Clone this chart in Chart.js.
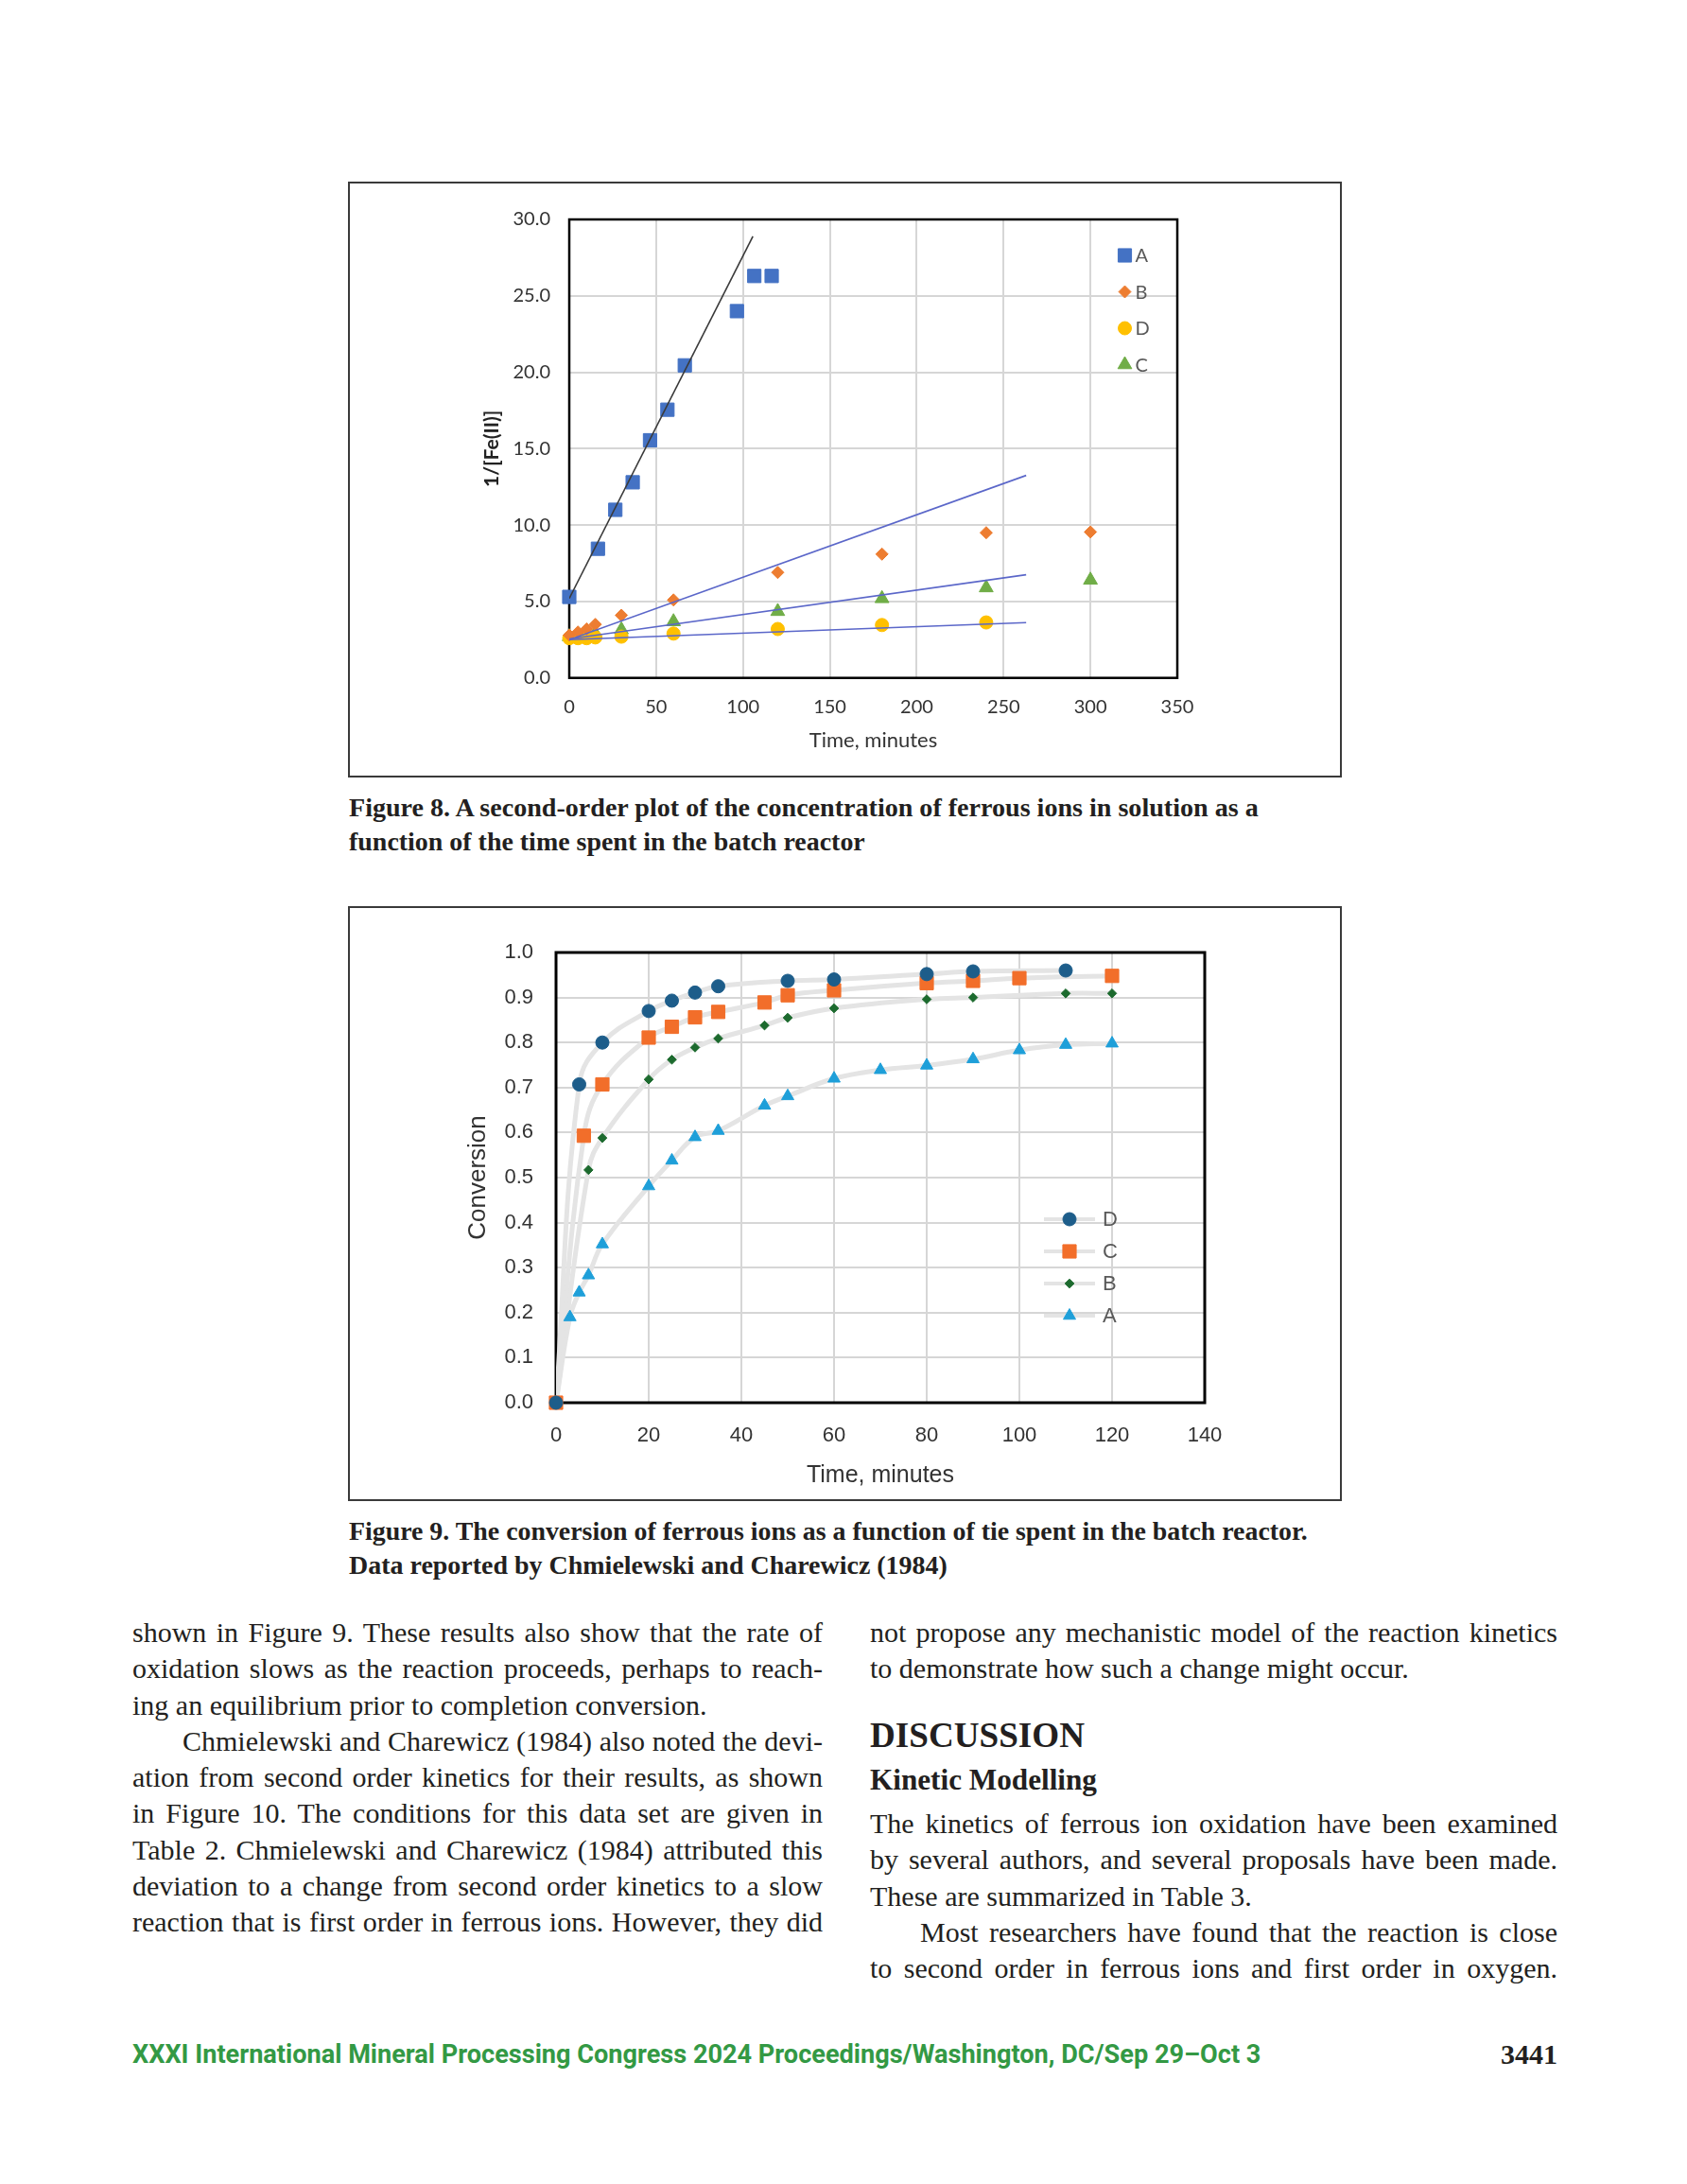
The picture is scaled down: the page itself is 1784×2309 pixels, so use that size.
<!DOCTYPE html>
<html>
<head>
<meta charset="utf-8">
<title>Figures 8 and 9</title>
<script src="https://cdn.jsdelivr.net/npm/chart.js@4.4.1/dist/chart.umd.min.js"></script>
<style>
  html, body { margin: 0; padding: 0; background: #fff; }
  #page { position: relative; width: 1784px; height: 2309px; overflow: hidden; background: #fff;
          color: #231f20; font-family: "Liberation Serif", "Times New Roman", serif; }
  .frame { position: absolute; border: 2px solid #3a3a3a; box-sizing: border-box; pointer-events: none; }
  .chartbox { position: absolute; }
  .ln { position: absolute; height: 38px; line-height: 38px; font-size: 30px; white-space: nowrap; }
  .jl { text-align: justify; text-align-last: justify; white-space: normal; overflow: visible; }
  .cap { position: absolute; font-weight: bold; font-size: 25px; line-height: 35px; white-space: nowrap; }
  .head { position: absolute; font-weight: bold; white-space: nowrap; }
  .foot { position: absolute; font-family: Roboto, "Liberation Sans", sans-serif; font-weight: bold;
          font-size: 24px; line-height: 30px; color: #339944; white-space: nowrap; }
</style>
</head>
<body>
<div id="page">
  <div class="chartbox" style="left:369px;top:193px;width:1049px;height:628px"><canvas id="fig8"></canvas></div>
  <div class="frame" style="left:368px;top:192px;width:1051px;height:630px"></div>
  <div class="cap" style="left:369px;top:836px" data-fit="962">Figure 8. A second-order plot of the concentration of ferrous ions in solution as a</div>
  <div class="cap" style="left:369px;top:872px" data-fit="546">function of the time spent in the batch reactor</div>

  <div class="chartbox" style="left:369px;top:959px;width:1049px;height:627px"><canvas id="fig9"></canvas></div>
  <div class="frame" style="left:368px;top:958px;width:1051px;height:629px"></div>
  <div class="cap" style="left:369px;top:1601px" data-fit="1014">Figure 9. The conversion of ferrous ions as a function of tie spent in the batch reactor.</div>
  <div class="cap" style="left:369px;top:1637px" data-fit="633">Data reported by Chmielewski and Charewicz (1984)</div>

  <div class="ln jl" style="left:140px;width:730px;top:1707px">shown in Figure 9. These results also show that the rate of</div>
  <div class="ln jl" style="left:140px;width:730px;top:1745px">oxidation slows as the reaction proceeds, perhaps to reach-</div>
  <div class="ln" style="left:140px;top:1784px">ing an equilibrium prior to completion conversion.</div>
  <div class="ln jl" style="left:193px;width:677px;top:1822px">Chmielewski and Charewicz (1984) also noted the devi-</div>
  <div class="ln jl" style="left:140px;width:730px;top:1860px">ation from second order kinetics for their results, as shown</div>
  <div class="ln jl" style="left:140px;width:730px;top:1898px">in Figure 10. The conditions for this data set are given in</div>
  <div class="ln jl" style="left:140px;width:730px;top:1937px">Table 2. Chmielewski and Charewicz (1984) attributed this</div>
  <div class="ln jl" style="left:140px;width:730px;top:1975px">deviation to a change from second order kinetics to a slow</div>
  <div class="ln jl" style="left:140px;width:730px;top:2013px">reaction that is first order in ferrous ions. However, they did</div>

  <div class="ln jl" style="left:920px;width:727px;top:1707px">not propose any mechanistic model of the reaction kinetics</div>
  <div class="ln" style="left:920px;top:1745px">to demonstrate how such a change might occur.</div>
  <div class="head" style="left:920px;top:1813px;font-size:36px;line-height:44px" data-fit="227">DISCUSSION</div>
  <div class="head" style="left:920px;top:1863px;font-size:30px;line-height:38px" data-fit="240">Kinetic Modelling</div>
  <div class="ln jl" style="left:920px;width:727px;top:1909px">The kinetics of ferrous ion oxidation have been examined</div>
  <div class="ln jl" style="left:920px;width:727px;top:1947px">by several authors, and several proposals have been made.</div>
  <div class="ln" style="left:920px;top:1986px">These are summarized in Table 3.</div>
  <div class="ln jl" style="left:973px;width:674px;top:2024px">Most researchers have found that the reaction is close</div>
  <div class="ln jl" style="left:920px;width:727px;top:2062px">to second order in ferrous ions and first order in oxygen.</div>

  <div class="foot" style="left:140px;top:2157px" data-fit="1194">XXXI International Mineral Processing Congress 2024 Proceedings/Washington, DC/Sep 29–Oct 3</div>
  <div class="head" style="right:137px;top:2153px;font-size:30px;line-height:38px">3441</div>
</div>

<script>
// ---- Figure 8: 1/[Fe(II)] against time ----
const fig8TimeA = [0, 16.5, 26.5, 36.5, 46.5, 56.5, 66.5, 96.5, 106.5, 116.5];
const fig8SeriesA = [5.3, 8.45, 11.0, 12.8, 15.55, 17.55, 20.45, 24.0, 26.3, 26.3];
const fig8TimeBC = [0, 5, 10, 15, 30, 60, 120, 180, 240, 300];
const fig8SeriesB = [2.8, 3.0, 3.2, 3.5, 4.1, 5.1, 6.9, 8.1, 9.5, 9.55];
const fig8SeriesC = [2.7, 2.8, 2.85, 2.9, 3.15, 3.68, 4.35, 5.19, 5.9, 6.4];
const fig8TimeD = [0, 5, 10, 15, 30, 60, 120, 180, 240];
const fig8SeriesD = [2.6, 2.6, 2.6, 2.65, 2.7, 2.9, 3.2, 3.46, 3.63];
// fitted straight lines (end points)
const fig8TrendAX = [0, 105.7];
const fig8TrendAY = [5.2, 28.9];
const fig8TrendX = [0, 263];
const fig8TrendBY = [2.5, 13.25];
const fig8TrendCY = [2.55, 6.75];
const fig8TrendDY = [2.5, 3.62];
const fig8XTicks = [0, 50, 100, 150, 200, 250, 300, 350];
const fig8XTickLabels = ["0", "50", "100", "150", "200", "250", "300", "350"];
const fig8YTicks = [0, 5, 10, 15, 20, 25, 30];
const fig8YTickLabels = ["0.0", "5.0", "10.0", "15.0", "20.0", "25.0", "30.0"];

// ---- Figure 9: conversion against time ----
const fig9TimeA = [0, 3, 5, 7, 10, 20, 25, 30, 35, 45, 50, 60, 70, 80, 90, 100, 110, 120];
const fig9SeriesA = [0, 0.19, 0.245, 0.283, 0.352, 0.481, 0.538, 0.59, 0.604, 0.66, 0.681, 0.72, 0.739, 0.749, 0.763, 0.783, 0.795, 0.798];
const fig9TimeB = [0, 7, 10, 20, 25, 30, 35, 45, 50, 60, 80, 90, 110, 120];
const fig9SeriesB = [0, 0.517, 0.588, 0.718, 0.762, 0.789, 0.809, 0.838, 0.855, 0.876, 0.896, 0.9, 0.909, 0.909];
const fig9TimeC = [0, 6, 10, 20, 25, 30, 35, 45, 50, 60, 80, 90, 100, 120];
const fig9SeriesC = [0, 0.593, 0.707, 0.811, 0.835, 0.856, 0.868, 0.889, 0.905, 0.916, 0.932, 0.937, 0.943, 0.948];
const fig9TimeD = [0, 5, 10, 20, 25, 30, 35, 50, 60, 80, 90, 110];
const fig9SeriesD = [0, 0.707, 0.8, 0.87, 0.893, 0.911, 0.925, 0.937, 0.94, 0.952, 0.958, 0.96];
const fig9XTicks = [0, 20, 40, 60, 80, 100, 120, 140];
const fig9XTickLabels = ["0", "20", "40", "60", "80", "100", "120", "140"];
const fig9YTicks = [0, 0.1, 0.2, 0.3, 0.4, 0.5, 0.6, 0.7, 0.8, 0.9, 1.0];
const fig9YTickLabels = ["0.0", "0.1", "0.2", "0.3", "0.4", "0.5", "0.6", "0.7", "0.8", "0.9", "1.0"];

const xy = (xs, ys) => xs.map((x, i) => ({ x, y: ys[i] }));

function drawMarker(ctx, style, r, x, y) {
  ctx.beginPath();
  if (style === "rect") {
    const s = r * Math.SQRT1_2;
    ctx.rect(x - s, y - s, 2 * s, 2 * s);
  } else if (style === "rectRot") {
    ctx.moveTo(x, y - r); ctx.lineTo(x + r, y); ctx.lineTo(x, y + r); ctx.lineTo(x - r, y);
    ctx.closePath();
  } else if (style === "triangle") {
    const c = Math.cos(Math.PI / 6) * r;
    ctx.moveTo(x, y - r); ctx.lineTo(x + c, y + r / 2); ctx.lineTo(x - c, y + r / 2);
    ctx.closePath();
  } else {
    ctx.arc(x, y, r, 0, Math.PI * 2);
  }
  ctx.fill();
  ctx.stroke();
}

// black box round the plot area
const plotFrame = {
  id: "plotFrame",
  beforeDatasetsDraw(chart, args, opts) {
    const { ctx, chartArea: a } = chart;
    ctx.save();
    ctx.strokeStyle = opts.color;
    ctx.lineWidth = opts.width;
    ctx.strokeRect(a.left, a.top, a.right - a.left, a.bottom - a.top);
    ctx.restore();
  },
};

// legend drawn inside the plot, as in the Excel originals
const insideLegend = {
  id: "insideLegend",
  afterDatasetsDraw(chart, args, opts) {
    const { ctx, chartArea: a } = chart;
    const items = chart.data.datasets.filter((d) => d.inLegend);
    ctx.save();
    items.forEach((d, i) => {
      const x = a.right + opts.dx;
      const y = a.top + opts.dy + i * opts.gap;
      if (opts.lineColor) {
        ctx.strokeStyle = opts.lineColor;
        ctx.lineWidth = opts.lineWidth;
        ctx.beginPath();
        ctx.moveTo(x - opts.lineHalf, y);
        ctx.lineTo(x + opts.lineHalf, y);
        ctx.stroke();
      }
      ctx.fillStyle = d.backgroundColor;
      ctx.strokeStyle = d.borderColor;
      ctx.lineWidth = 1;
      drawMarker(ctx, d.pointStyle, d.pointRadius, x, y);
      ctx.fillStyle = opts.textColor;
      ctx.font = opts.font;
      ctx.textAlign = "left";
      ctx.textBaseline = "middle";
      ctx.fillText(d.label, x + opts.textDx, y + 1);
    });
    ctx.restore();
  },
};

function linearAxis(o) {
  return {
    type: "linear",
    min: o.min,
    max: o.max,
    afterBuildTicks: (s) => { s.ticks = o.ticks.map((v) => ({ value: v })); },
    ticks: { callback: (v, i) => o.labels[i], padding: o.pad, color: "#333333", font: o.tickFont, autoSkip: false, maxRotation: 0 },
    grid: { color: o.gridColor, lineWidth: 2, drawTicks: false },
    border: { display: false },
    title: { display: true, text: o.title, color: o.titleColor, font: o.titleFont, padding: o.titlePad },
    afterFit: (s) => {
      if (o.width) s.width = o.width;
      if (o.height) s.height = o.height;
    },
  };
}

function markers(label, xs, ys, style, radius, color) {
  return {
    label, data: xy(xs, ys), pointStyle: style, pointRadius: radius, pointHoverRadius: radius,
    backgroundColor: color, borderColor: color, borderWidth: 1, showLine: false, clip: false,
    inLegend: true, order: 1,
  };
}

function trend(label, xs, ys, color, width) {
  return {
    label, data: xy(xs, ys), showLine: true, pointRadius: 0, pointHoverRadius: 0,
    borderColor: color, borderWidth: width, backgroundColor: color, fill: false, order: 0,
  };
}

new Chart(document.getElementById("fig8"), {
  type: "scatter",
  data: {
    datasets: [
      markers("A", fig8TimeA, fig8SeriesA, "rect", 10, "#4472C4"),
      markers("B", fig8TimeBC, fig8SeriesB, "rectRot", 6.5, "#ED7D31"),
      markers("D", fig8TimeD, fig8SeriesD, "circle", 7, "#FFC000"),
      markers("C", fig8TimeBC, fig8SeriesC, "triangle", 8.5, "#70AD47"),
      trend("fit A", fig8TrendAX, fig8TrendAY, "#3a3a3a", 1.6),
      trend("fit B", fig8TrendX, fig8TrendBY, "#5B67C9", 1.6),
      trend("fit C", fig8TrendX, fig8TrendCY, "#5B67C9", 1.6),
      trend("fit D", fig8TrendX, fig8TrendDY, "#5B67C9", 1.6),
    ],
  },
  options: {
    responsive: true,
    maintainAspectRatio: false,
    animation: false,
    events: [],
    layout: { padding: { top: 39, right: 173, bottom: 0, left: 0 } },
    plugins: {
      legend: { display: false },
      tooltip: { enabled: false },
      plotFrame: { color: "#000", width: 2.5 },
      insideLegend: { dx: -55.5, dy: 38, gap: 38.5, textDx: 11, textColor: "#595959", font: "20px Lato, 'Liberation Sans', sans-serif" },
    },
    scales: {
      x: linearAxis({
        min: 0, max: 350, ticks: fig8XTicks, labels: fig8XTickLabels, pad: 19,
        tickFont: { family: "Lato, 'Liberation Sans', sans-serif", size: 20 },
        gridColor: "#D6D6D6", title: "Time, minutes", titleColor: "#333333",
        titleFont: { family: "Lato, 'Liberation Sans', sans-serif", size: 22 }, titlePad: { bottom: 25 }, height: 104.3,
      }),
      y: linearAxis({
        min: 0, max: 30, ticks: fig8YTicks, labels: fig8YTickLabels, pad: 20,
        tickFont: { family: "Lato, 'Liberation Sans', sans-serif", size: 20 },
        gridColor: "#D6D6D6", title: "1/[Fe(II)]", titleColor: "#222222",
        titleFont: { family: "Lato, 'Liberation Sans', sans-serif", size: 21, weight: "bold" }, titlePad: { top: 139 }, width: 233,
      }),
    },
  },
  plugins: [plotFrame, insideLegend],
});

function smooth(label, xs, ys) {
  return {
    label, data: xy(xs, ys), showLine: true, pointRadius: 0, pointHoverRadius: 0,
    borderColor: "#E4E4E4", borderWidth: 5, tension: 0.4, fill: false, order: 2,
  };
}

new Chart(document.getElementById("fig9"), {
  type: "scatter",
  data: {
    datasets: [
      markers("D", fig9TimeD, fig9SeriesD, "circle", 7, "#1D5D8A"),
      markers("C", fig9TimeC, fig9SeriesC, "rect", 10, "#F26E2A"),
      markers("B", fig9TimeB, fig9SeriesB, "rectRot", 4.8, "#1C6A2E"),
      markers("A", fig9TimeA, fig9SeriesA, "triangle", 7.5, "#1E9FD9"),
      smooth("D line", fig9TimeD, fig9SeriesD),
      smooth("C line", fig9TimeC, fig9SeriesC),
      smooth("B line", fig9TimeB, fig9SeriesB),
      smooth("A line", fig9TimeA, fig9SeriesA),
    ],
  },
  options: {
    responsive: true,
    maintainAspectRatio: false,
    animation: false,
    events: [],
    layout: { padding: { top: 48, right: 144, bottom: 0, left: 0 } },
    plugins: {
      legend: { display: false },
      tooltip: { enabled: false },
      plotFrame: { color: "#000", width: 3 },
      insideLegend: {
        dx: -143, dy: 282, gap: 34, textDx: 35, textColor: "#595959",
        font: "22px 'Liberation Sans', Arial, sans-serif",
        lineColor: "#E4E4E4", lineWidth: 4, lineHalf: 27,
      },
    },
    scales: {
      x: linearAxis({
        min: 0, max: 140, ticks: fig9XTicks, labels: fig9XTickLabels, pad: 22,
        tickFont: { family: "'Liberation Sans', Arial, sans-serif", size: 22 },
        gridColor: "#D6D6D6", title: "Time, minutes", titleColor: "#333333",
        titleFont: { family: "'Liberation Sans', Arial, sans-serif", size: 25 }, titlePad: { bottom: 11 }, height: 103,
      }),
      y: linearAxis({
        min: 0, max: 1, ticks: fig9YTicks, labels: fig9YTickLabels, pad: 24,
        tickFont: { family: "'Liberation Sans', Arial, sans-serif", size: 22 },
        gridColor: "#D6D6D6", title: "Conversion", titleColor: "#333333",
        titleFont: { family: "'Liberation Sans', Arial, sans-serif", size: 26 }, titlePad: { top: 121 }, width: 219,
      }),
    },
  },
  plugins: [plotFrame, insideLegend],
});

// stretch or shrink single-line captions and headings to the widths they have on the page
document.fonts.ready.then(() => {
  document.querySelectorAll("[data-fit]").forEach((el) => {
    const target = Number(el.dataset.fit);
    const w = el.getBoundingClientRect().width;
    const fs = parseFloat(getComputedStyle(el).fontSize);
    const k = Math.max(0.85, Math.min(1.15, target / w));
    el.style.fontSize = (fs * k).toFixed(2) + "px";
  });
});
</script>
</body>
</html>
